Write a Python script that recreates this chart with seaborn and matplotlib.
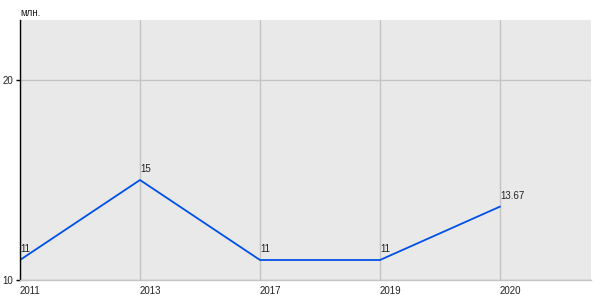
import matplotlib
matplotlib.use("Agg")
import matplotlib.pyplot as plt
import seaborn as sns
import pandas as pd

years = ["2011", "2013", "2017", "2019", "2020"]
values = [11, 15, 11, 11, 13.67]
value_labels = ["11", "15", "11", "11", "13.67"]
y_ticks = [10, 20]
unit_label = "млн."

sns.set_theme(style="white")
plt.rcParams['font.family'] = ['Liberation Sans', 'DejaVu Sans']

df = pd.DataFrame({"year": years, "value": values})
df["pos"] = range(len(years))

fig = plt.figure(figsize=(6, 3), dpi=100)
ax = fig.add_axes([20/600, 20/300, 571/600, 260/300])
ax.set_facecolor("#e9e9e9")

sns.lineplot(data=df, x="pos", y="value", ax=ax, color="#0050e6", linewidth=1.3)

ax.set_xlim(0, 571/120)
ax.set_ylim(10, 23)
ax.set_xticks(df["pos"])
ax.set_xticklabels(years, fontsize=7, color="#222222", ha="left")
ax.set_yticks(y_ticks)
ax.set_yticklabels([str(t) for t in y_ticks], fontsize=7, color="#222222")
ax.tick_params(axis="x", length=0, pad=4)
ax.tick_params(axis="y", length=3, width=1, color="black", pad=2, left=True)
for lbl in ax.get_xticklabels():
    lbl.set_horizontalalignment("left")
ax.grid(True, color="#c4c4c4", linewidth=1)
ax.set_axisbelow(True)
ax.set_xlabel("")
ax.set_ylabel("")
for s in ["top", "right"]:
    ax.spines[s].set_visible(False)
ax.spines["left"].set_color("black")
ax.spines["left"].set_linewidth(1)
ax.spines["bottom"].set_color("#c4c4c4")
ax.spines["bottom"].set_linewidth(1)

for p, v, t in zip(df["pos"], values, value_labels):
    ax.annotate(t, (p, v), xytext=(0, 4), textcoords="offset points",
                fontsize=7, color="#222222", ha="left", va="bottom")

fig.text(20/600, 1 - 12.5/300, unit_label, fontsize=7, color="#222222",
         ha="left", va="center")

fig.savefig("out.png", dpi=100)
